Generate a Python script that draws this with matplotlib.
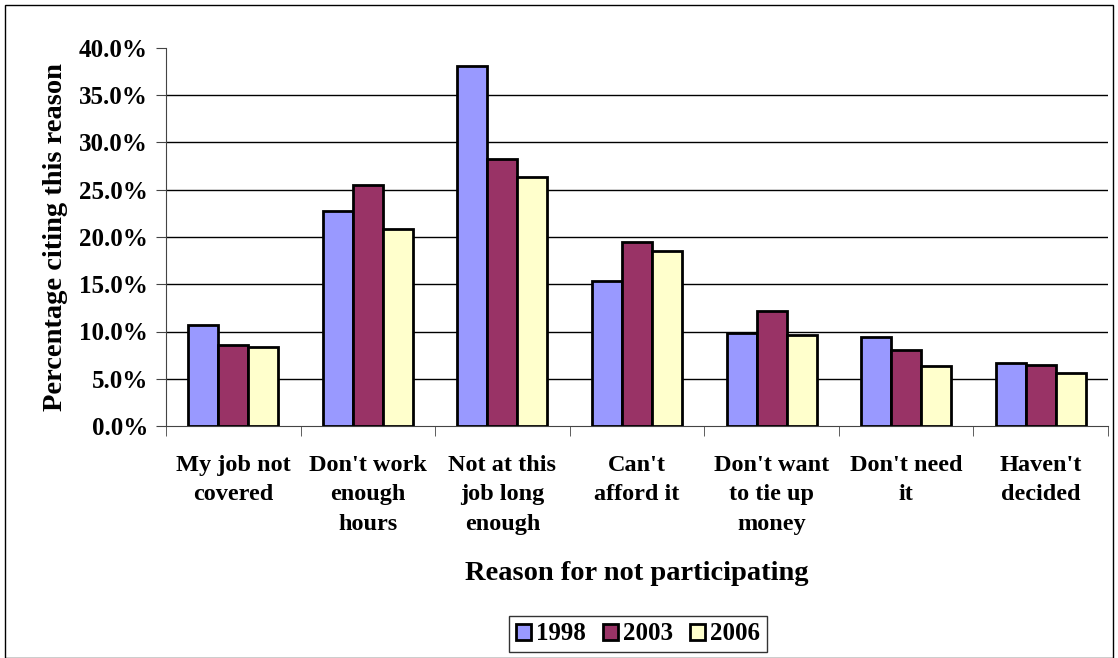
import matplotlib.pyplot as plt
import numpy as np
from matplotlib.patches import Rectangle
from matplotlib.ticker import FuncFormatter

plt.rcParams['font.family'] = ['Liberation Serif', 'DejaVu Serif']
plt.rcParams['font.weight'] = 'bold'

reasons = ["My job not\ncovered", "Don't work\nenough\nhours", "Not at this\njob long\nenough",
           "Can't\nafford it", "Don't want\nto tie up\nmoney", "Don't need\nit", "Haven't\ndecided"]
years = ["1998", "2003", "2006"]
v1998 = [10.7, 22.7, 38.1, 15.3, 9.8, 9.4, 6.7]
v2003 = [8.6, 25.5, 28.3, 19.5, 12.2, 8.0, 6.5]
v2006 = [8.4, 20.8, 26.3, 18.5, 9.6, 6.4, 5.6]
colors = ["#9999FF", "#993366", "#FFFFCC"]

fig = plt.figure(figsize=(11.18, 6.58), dpi=100)
ax = fig.add_axes([166/1118, 1-426/658, (1108-166)/1118, (426-48)/658])

x = np.arange(len(reasons))
w = 0.223
for i, (vals, c, lab) in enumerate(zip([v1998, v2003, v2006], colors, years)):
    ax.bar(x + (i-1)*w, vals, w, color=c, edgecolor='black', linewidth=2, label=lab, zorder=3)

ax.set_xlim(-0.5, len(reasons)-0.5)
ax.set_ylim(0, 40)
ax.set_yticks(np.arange(0, 41, 5))
ax.yaxis.set_major_formatter(FuncFormatter(lambda v, p: f"{v:.1f}%"))
for yv in np.arange(5, 40, 5):
    ax.axhline(yv, color='black', linewidth=1, zorder=1)

ax.set_xticks(x)
ax.set_xticklabels(reasons, fontsize=17.5, fontweight='bold', linespacing=1.52, va='top')
ax.set_xticks(np.arange(-0.5, len(reasons)), minor=True)
ax.tick_params(axis='x', which='major', length=0, pad=21)
ax.tick_params(axis='x', which='minor', length=7, color='#444444')
ax.tick_params(axis='y', length=7, color='#444444', labelsize=18, pad=6)
for t in ax.get_yticklabels():
    t.set_fontweight('bold')

for s in ['top', 'right']:
    ax.spines[s].set_visible(False)
ax.spines['left'].set_color('#444444')
ax.spines['bottom'].set_color('#444444')

ax.set_ylabel("Percentage citing this reason", fontsize=20.5, fontweight='bold', labelpad=8)
ax.set_xlabel("Reason for not participating", fontsize=20.5, fontweight='bold', labelpad=19)

leg = fig.legend(loc='center', bbox_to_anchor=(638/1118, 1-634/658), ncol=3, fontsize=18,
                 frameon=True, fancybox=False, edgecolor='black', handlelength=0.6,
                 handleheight=0.6, handletextpad=0.2, columnspacing=0.7, borderpad=0.25)
leg.get_frame().set_linewidth(1)
for t in leg.get_texts():
    t.set_fontweight('bold')

fig.patches.append(Rectangle((5/1118, 0), 1-10/1118, 1-5/658, transform=fig.transFigure,
                             fill=False, edgecolor='black', linewidth=1))

fig.savefig("out.png", dpi=100)
